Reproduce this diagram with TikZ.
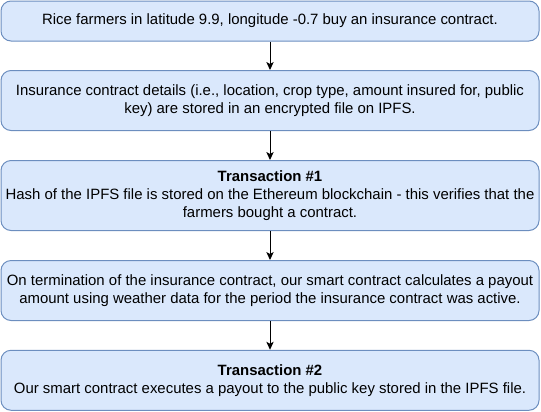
\documentclass[tikz,border=0pt]{standalone}
\usepackage{fontspec}
\setmainfont{Liberation Sans}
\usetikzlibrary{arrows.meta}
\definecolor{boxfill}{HTML}{DAE8FC}
\definecolor{boxline}{HTML}{6C8EBF}
\tikzset{
  flowbox/.style={draw=boxline, fill=boxfill, line width=0.75pt, rounded corners=7.5pt,
    minimum width=403.5pt, inner sep=0pt, align=center,
    font=\fontsize{11.2pt}{13.5pt}\selectfont},
  flowarrow/.style={draw=black, line width=0.75pt, -{Stealth[length=6pt,width=5.5pt,inset=1.5pt]}}
}
\begin{document}
\begin{tikzpicture}[x=0.75pt,y=-0.75pt]
\useasboundingbox (0,0) rectangle (541,411);
\node[flowbox, minimum height=30pt] (b1) at (270,21) {Rice farmers in latitude 9.9, longitude -0.7 buy an insurance contract.};
\node[flowbox, minimum height=45pt] (b2) at (270,100.5) {Insurance contract details (i.e., location, crop type, amount insured for, public\\key) are stored in an encrypted file on IPFS.};
\node[flowbox, minimum height=52.5pt] (b3) at (270,195.5) {\textbf{Transaction \#1}\\Hash of the IPFS file is stored on the Ethereum blockchain - this verifies that the\\farmers bought a contract.};
\node[flowbox, minimum height=45pt] (b4) at (270,290.5) {On termination of the insurance contract, our smart contract calculates a payout\\amount using weather data for the period the insurance contract was active.};
\node[flowbox, minimum height=45pt] (b5) at (270,380.25) {\textbf{Transaction \#2}\\Our smart contract executes a payout to the public key stored in the IPFS file.};
\draw[flowarrow] (b1) -- (b2);
\draw[flowarrow] (b2) -- (b3);
\draw[flowarrow] (b3) -- (b4);
\draw[flowarrow] (b4) -- (b5);
\end{tikzpicture}
\end{document}
